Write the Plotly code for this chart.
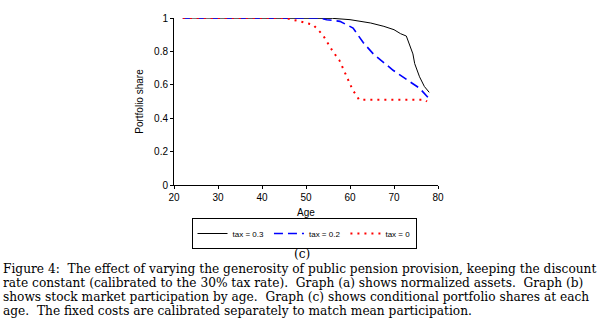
import plotly.graph_objects as go

# Data
age_03 = [22, 55, 56, 60, 64.7, 67.7, 70, 71.5, 72.8, 74.3, 74.7, 75.8, 76.9, 78]
share_03 = [1.0, 1.0, 0.998, 0.99, 0.97, 0.95, 0.93, 0.906, 0.892, 0.785, 0.727, 0.648, 0.59, 0.555]

age_02 = [22, 53, 54.7, 57.7, 60.7, 63, 65.3, 69.8, 73.5, 75.8, 77.7]
share_02 = [1.0, 1.0, 0.99, 0.98, 0.94, 0.853, 0.785, 0.687, 0.62, 0.58, 0.525]

age_0 = [22, 45.2, 48.6, 51.6, 53.8, 56.1, 57.6, 59.1, 60.6, 62.1, 63, 77, 77.5]
share_0 = [1.0, 1.0, 0.98, 0.96, 0.90, 0.80, 0.746, 0.66, 0.57, 0.51, 0.51, 0.51, 0.50]

x_ticks = [20, 30, 40, 50, 60, 70, 80]
y_ticks = [0, 0.2, 0.4, 0.6, 0.8, 1]
y_tick_labels = ["0", "0.2", "0.4", "0.6", "0.8", "1"]

caption_lines = [
    "Figure 4:  The effect of varying the generosity of public pension provision, keeping the discount",
    "rate constant (calibrated to the 30% tax rate).  Graph (a) shows normalized assets.  Graph (b)",
    "shows stock market participation by age.  Graph (c) shows conditional portfolio shares at each",
    "age.  The fixed costs are calibrated separately to match mean participation.",
]

W, H = 615, 333
L, R, T, B = 174, 438, 13, 185
pw, ph = R - L, B - T

def px(x):
    return (x - L) / pw

def py(y):
    return (B - y) / ph

fig = go.Figure()
fig.add_trace(go.Scatter(x=age_03, y=share_03, mode="lines", name="tax = 0.3",
                         line=dict(color="black", width=1)))
fig.add_trace(go.Scatter(x=age_02, y=share_02, mode="lines", name="tax = 0.2",
                         line=dict(color="#0000ff", width=1.6, dash="9px,5px")))
fig.add_trace(go.Scatter(x=age_0, y=share_0, mode="lines", name="tax = 0",
                         line=dict(color="#ff0000", width=2, dash="2px,5px")))

axis_font = dict(family="Liberation Sans, Arial", size=10, color="black")
leg_font = dict(family="Liberation Sans, Arial", size=8, color="black")
fig.update_layout(
    width=W, height=H,
    margin=dict(l=L, r=W - R, t=T, b=H - B, pad=0),
    plot_bgcolor="white", paper_bgcolor="white",
    showlegend=True,
    legend=dict(orientation="h", x=px(304), y=py(219), xanchor="center", yanchor="top",
                bordercolor="black", borderwidth=1, font=leg_font,
                itemwidth=30, tracegroupgap=0, bgcolor="white"),
    xaxis=dict(range=[20, 80], tickvals=x_ticks, showgrid=False, zeroline=False,
               showline=True, linecolor="black", linewidth=1, ticks="outside",
               ticklen=3, tickcolor="black", tickfont=axis_font,
               title=dict(text="Age", font=axis_font, standoff=6)),
    yaxis=dict(range=[0, 1], tickvals=y_ticks, ticktext=y_tick_labels, showgrid=False,
               zeroline=False, showline=True, linecolor="black", linewidth=1,
               ticks="outside", ticklen=3, tickcolor="black", tickfont=axis_font,
               title=dict(text="Portfolio share", font=axis_font, standoff=8)),
    font=axis_font,
)

cap_font = dict(family="DejaVu Serif", size=12.2, color="black")
fig.add_annotation(text="(c)", xref="paper", yref="paper", x=px(302), y=py(256),
                   xanchor="center", yanchor="middle", showarrow=False, font=cap_font)
for i, line in enumerate(caption_lines):
    fig.add_annotation(text=line, xref="paper", yref="paper", x=px(1), y=py(271 + i * 14.7),
                       xanchor="left", yanchor="middle", showarrow=False, font=cap_font)

fig.write_html("out.html")
